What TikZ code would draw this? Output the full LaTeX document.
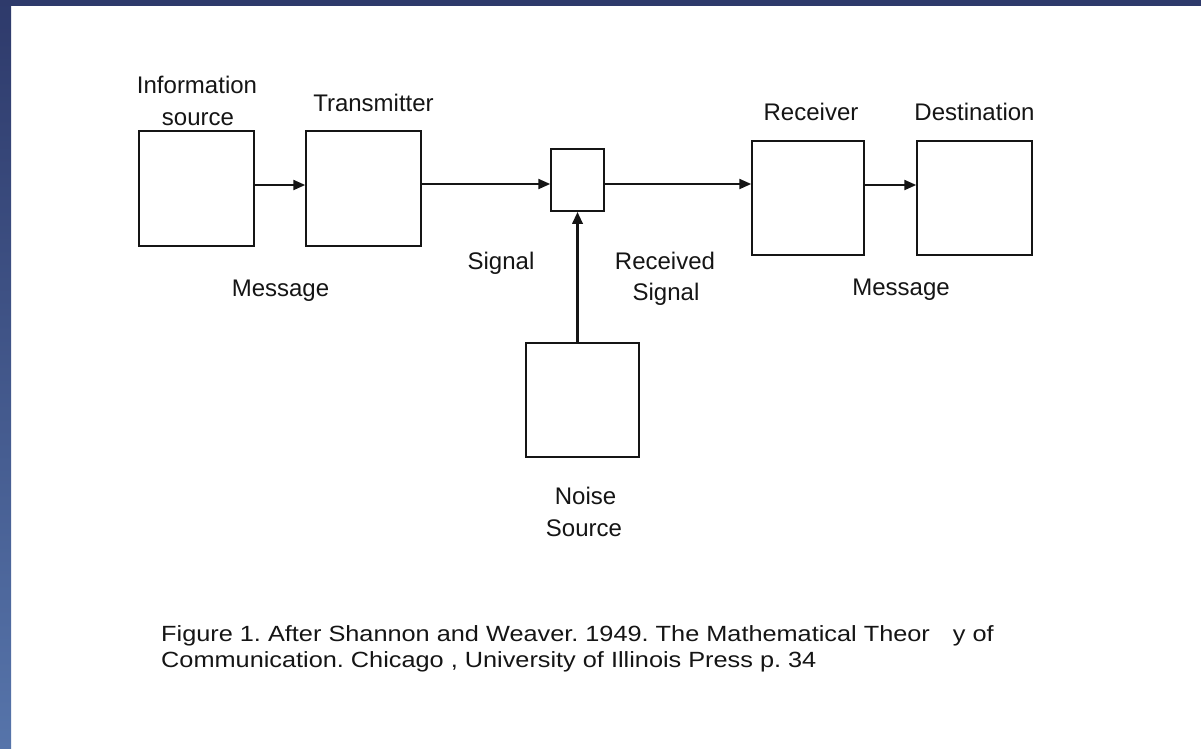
\documentclass[tikz,border=0pt]{standalone}
\usepackage{fontspec}
\setmainfont{Liberation Sans}
\newfontfamily\capfont[FakeStretch=1.15]{Liberation Sans}
\usetikzlibrary{arrows.meta}

\definecolor{bandtop}{HTML}{2E3A6B}
\definecolor{bandbot}{HTML}{5674AA}
\definecolor{ink}{HTML}{151515}

\tikzset{
  blockbox/.style={draw=ink, line width=1.5pt, fill=white, inner sep=0pt},
  flow/.style={draw=ink, line width=2.2pt, -{Triangle[length=12pt,width=10pt]}},
  noiseflow/.style={draw=ink, line width=3pt, -{Triangle[length=12pt,width=10pt]}},
  lbl/.style={anchor=base, inner sep=0pt, text=ink, font=\fontsize{24}{30}\selectfont},
  captxt/.style={anchor=base west, inner sep=0pt, text=ink, font=\capfont\fontsize{22}{26}\selectfont}
}

\begin{document}
\begin{tikzpicture}[x=1pt, y=-1pt]
  % page and frame bands
  \useasboundingbox (0,0) rectangle (1201,748);
  \fill[white] (0,0) rectangle (1201,748);
  \shade[top color=bandtop, bottom color=bandbot] (0,0) rectangle (11,748);
  \fill[bandtop] (0,0) rectangle (1201,6);

  % blocks
  \node[blockbox, minimum width=115pt, minimum height=115pt] (src)   at (196.5,188.5) {};
  \node[blockbox, minimum width=115pt, minimum height=115pt] (tx)    at (363.5,188.5) {};
  \node[blockbox, minimum width=53pt,  minimum height=62pt]  (chan)  at (577.5,180)   {};
  \node[blockbox, minimum width=112pt, minimum height=114pt] (rx)    at (808,198)     {};
  \node[blockbox, minimum width=115pt, minimum height=114pt] (dst)   at (974.5,198)   {};
  \node[blockbox, minimum width=113pt, minimum height=114pt] (noise) at (582.5,400)   {};

  % connectors
  \draw[flow] ([yshift=3.5pt]src.east) -- ([yshift=3.5pt]tx.west);
  \draw[flow] ([yshift=4.5pt]tx.east) -- ([yshift=-4pt]chan.west);
  \draw[flow] ([yshift=-4pt]chan.east) -- ([yshift=14pt]rx.west);
  \draw[flow] ([yshift=13pt]rx.east) -- ([yshift=13pt]dst.west);
  \draw[noiseflow] ([xshift=-5pt]noise.north) -- (chan.south);

  % labels
  \node[lbl] (l-info)  at (197,93)   {Information};
  \node[lbl] (l-src)   at (198,125)  {source};
  \node[lbl] (l-tx)    at (373.5,111) {Transmitter};
  \node[lbl] (l-msg1)  at (280.5,296) {Message};
  \node[lbl] (l-sig)   at (501,269)  {Signal};
  \node[lbl] (l-rec)   at (665,269)  {Received};
  \node[lbl] (l-rsig)  at (666,300)  {Signal};
  \node[lbl] (l-rx)    at (811,120)  {Receiver};
  \node[lbl] (l-dst)   at (974.5,120) {Destination};
  \node[lbl] (l-msg2)  at (901,295)  {Message};
  \node[lbl] (l-noise) at (585.5,504) {Noise};
  \node[lbl] (l-nsrc)  at (584,536)  {Source};

  % caption
  \node[captxt] (cap1) at (161,641) {\frenchspacing Figure 1. After Shannon and Weaver. 1949. The Mathematical Theor\hspace{23pt}y of};
  \node[captxt] (cap2) at (161,667) {\frenchspacing Communication. Chicago\hspace{7pt}, University of Illinois Press p. 34};
\end{tikzpicture}
\end{document}
